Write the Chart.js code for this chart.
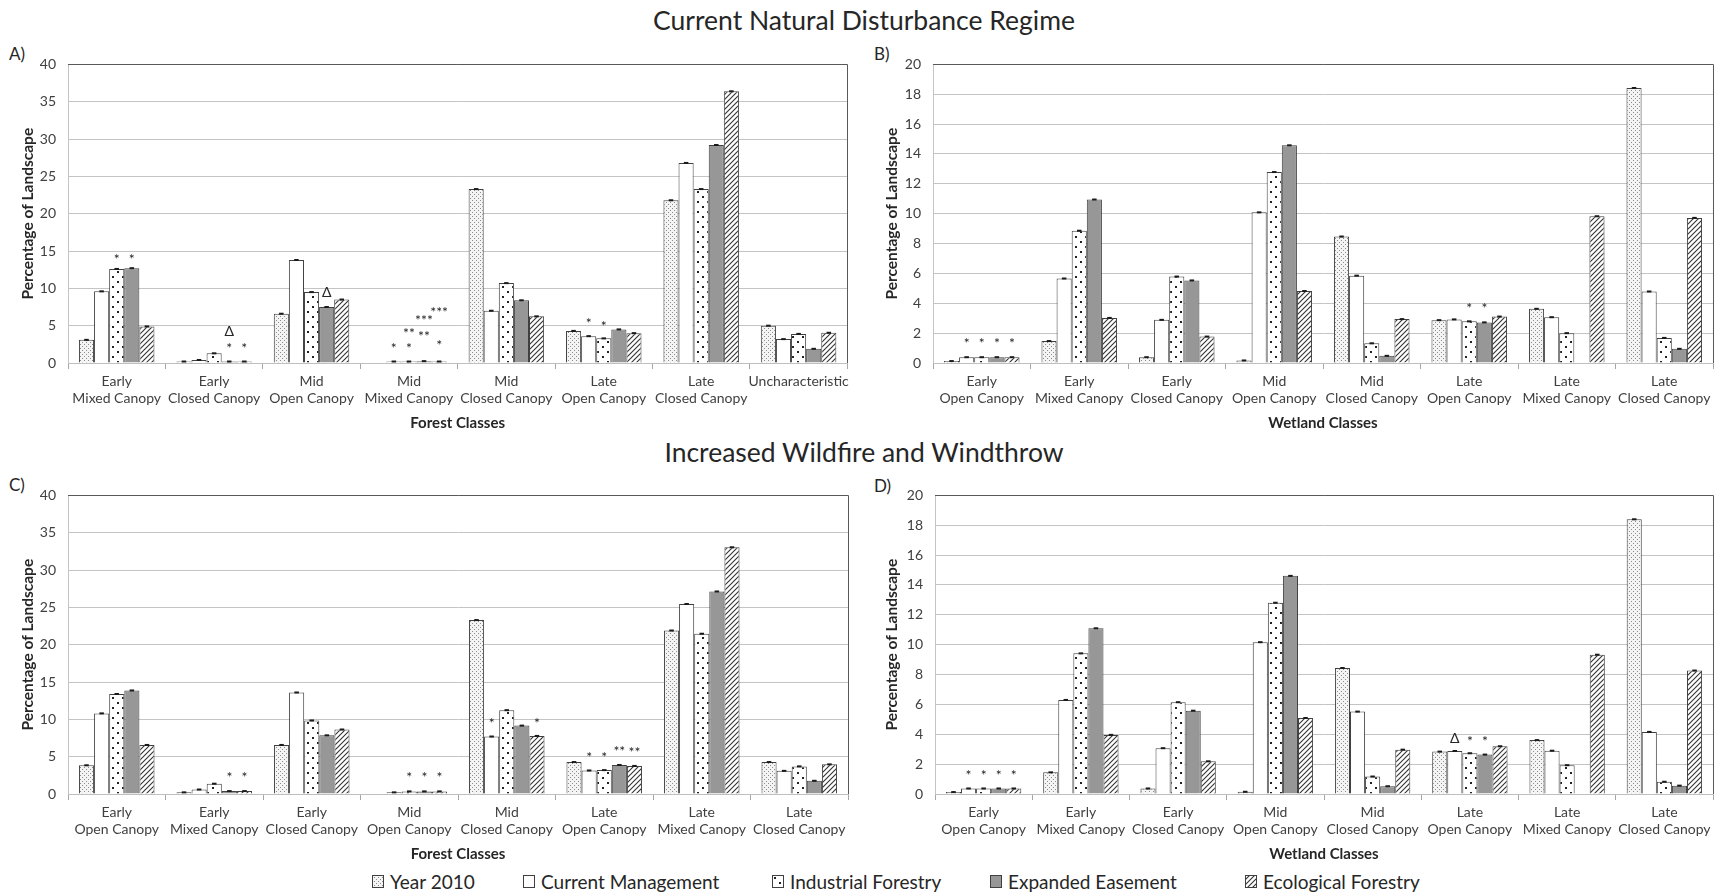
<!DOCTYPE html>
<html>
<head>
<meta charset="utf-8">
<script src="https://cdn.jsdelivr.net/npm/chart.js@4.4.0/dist/chart.umd.min.js"></script>
<style>
  body { margin: 0; width: 1715px; height: 894px; background: #fff; position: relative; overflow: hidden;
         font-family: Lato, 'Open Sans', sans-serif; color: #262626; }
  .title { position: absolute; left: 0; width: 1728px; text-align: center; font-size: 26.5px; line-height: 30px; }
  .letter { position: absolute; font-size: 17px; line-height: 20px; color: #262626; }
  .panel { position: absolute; }
  .legend-item { position: absolute; top: 870px; height: 22px; display: flex; align-items: center; font-size: 19px; white-space: nowrap; }
  .legend-item canvas { margin-right: 6px; }
</style>
</head>
<body>
<div class="title" style="top:5px">Current Natural Disturbance Regime</div>
<div class="title" style="top:437px">Increased Wildfire and Windthrow</div>

<div class="letter" style="left:9px;top:44px">A)</div>
<div class="letter" style="left:874px;top:44px">B)</div>
<div class="letter" style="left:9px;top:475px">C)</div>
<div class="letter" style="left:874px;top:476px">D)</div>

<canvas id="chartA" class="panel" width="853" height="390" style="left:0;top:44px"></canvas>
<canvas id="chartB" class="panel" width="862" height="390" style="left:853px;top:44px"></canvas>
<canvas id="chartC" class="panel" width="853" height="390" style="left:0;top:475px"></canvas>
<canvas id="chartD" class="panel" width="862" height="390" style="left:853px;top:475px"></canvas>

<div id="legend"></div>

<script>
// ---- data -------------------------------------------------------------
const seriesNames = ['Year 2010', 'Current Management', 'Industrial Forestry', 'Expanded Easement', 'Ecological Forestry'];

const forestLabelsA = [['Early', 'Mixed Canopy'], ['Early', 'Closed Canopy'], ['Mid', 'Open Canopy'], ['Mid', 'Mixed Canopy'],
  ['Mid', 'Closed Canopy'], ['Late', 'Open Canopy'], ['Late', 'Closed Canopy'], 'Uncharacteristic'];
const forestLabelsC = [['Early', 'Open Canopy'], ['Early', 'Mixed Canopy'], ['Early', 'Closed Canopy'], ['Mid', 'Open Canopy'],
  ['Mid', 'Closed Canopy'], ['Late', 'Open Canopy'], ['Late', 'Mixed Canopy'], ['Late', 'Closed Canopy']];
const wetlandLabels = [['Early', 'Open Canopy'], ['Early', 'Mixed Canopy'], ['Early', 'Closed Canopy'], ['Mid', 'Open Canopy'],
  ['Mid', 'Closed Canopy'], ['Late', 'Open Canopy'], ['Late', 'Mixed Canopy'], ['Late', 'Closed Canopy']];

// A) forest, current regime
const yearA       = [3.1, 0.2, 6.6, null, 23.3, 4.3, 21.8, 5.0];
const currentA    = [9.6, 0.4, 13.8, 0.2, 7.0, 3.6, 26.8, 3.2];
const industrialA = [12.6, 1.3, 9.5, 0.2, 10.7, 3.3, 23.3, 3.9];
const expandedA   = [12.7, 0.2, 7.5, 0.25, 8.4, 4.5, 29.2, 1.9];
const ecologicalA = [4.9, 0.2, 8.5, 0.2, 6.25, 4.0, 36.4, 4.05];

// B) wetland, current regime
const yearB       = [0.13, 1.47, 0.39, 0.17, 8.47, 2.87, 3.63, 18.42];
const currentB    = [0.39, 5.66, 2.89, 10.09, 5.85, 2.92, 3.07, 4.79];
const industrialB = [0.39, 8.86, 5.79, 12.79, 1.32, 2.79, 2.0, 1.68];
const expandedB   = [0.39, 10.95, 5.53, 14.58, 0.48, 2.72, null, 0.95];
const ecologicalB = [0.39, 3.02, 1.77, 4.82, 2.94, 3.11, 9.83, 9.72];

// C) forest, wildfire and windthrow
const yearC       = [3.85, 0.22, 6.57, null, 23.3, 4.28, 21.9, 4.28];
const currentC    = [10.8, 0.6, 13.6, 0.22, 7.7, 3.15, 25.45, 3.1];
const industrialC = [13.4, 1.38, 9.85, 0.35, 11.23, 3.2, 21.47, 3.7];
const expandedC   = [13.87, 0.39, 7.86, 0.35, 9.16, 3.89, 27.13, 1.77];
const ecologicalC = [6.57, 0.39, 8.64, 0.35, 7.78, 3.76, 33.05, 3.97];

// D) wetland, wildfire and windthrow
const yearD       = [0.13, 1.45, 0.37, 0.15, 8.44, 2.84, 3.61, 18.4];
const currentD    = [0.37, 6.3, 3.07, 10.17, 5.52, 2.88, 2.9, 4.16];
const industrialD = [0.37, 9.42, 6.15, 12.81, 1.17, 2.73, 1.93, 0.82];
const expandedD   = [0.37, 11.1, 5.58, 14.61, 0.52, 2.64, null, 0.56];
const ecologicalD = [0.37, 3.96, 2.19, 5.09, 2.97, 3.2, 9.33, 8.27];

// significance marks: [category, series, value, text]
const marksA = [[0, 2, 14.3, '*'], [0, 3, 14.3, '*'], [1, 3, 4.2, 'Δ'], [1, 3, 2.4, '*'], [1, 4, 2.4, '*'],
  [2, 3, 9.4, 'Δ'], [3, 1, 2.4, '*'], [3, 2, 2.3, '*'], [3, 2, 4.4, '**'], [3, 3, 6.1, '***'], [3, 3, 3.9, '**'],
  [3, 4, 7.2, '***'], [3, 4, 2.7, '*'], [5, 1, 5.7, '*'], [5, 2, 5.3, '*']];
const marksB = [[0, 1, 1.5, '*'], [0, 2, 1.5, '*'], [0, 3, 1.5, '*'], [0, 4, 1.5, '*'], [5, 2, 3.85, '*'], [5, 3, 3.85, '*']];
const marksC = [[1, 3, 2.55, '*'], [1, 4, 2.55, '*'], [3, 2, 2.55, '*'], [3, 3, 2.55, '*'], [3, 4, 2.55, '*'],
  [4, 1, 9.8, '*'], [4, 4, 9.8, '*'], [5, 1, 5.27, '*'], [5, 2, 5.27, '*'], [5, 3, 6.05, '**'], [5, 4, 5.9, '**']];
const marksD = [[0, 1, 1.45, '*'], [0, 2, 1.45, '*'], [0, 3, 1.45, '*'], [0, 4, 1.45, '*'],
  [5, 1, 3.7, 'Δ'], [5, 2, 3.7, '*'], [5, 3, 3.7, '*']];

// ---- fills ------------------------------------------------------------
const FONT = "Lato, 'Open Sans', sans-serif";

function makePattern(kind) {
  const c = document.createElement('canvas');
  const g = c.getContext('2d');
  if (kind === 'stipple') {
    c.width = 4; c.height = 4;
    g.fillStyle = '#f4f4f4'; g.fillRect(0, 0, 4, 4);
    g.fillStyle = '#8c8c8c'; g.fillRect(0, 0, 1, 1); g.fillRect(2, 2, 1, 1);
  } else if (kind === 'dots') {
    c.width = 10; c.height = 10;
    g.fillStyle = '#fff'; g.fillRect(0, 0, 10, 10);
    g.fillStyle = '#222'; g.fillRect(2, 2, 2, 2); g.fillRect(7, 7, 2, 2);
  } else if (kind === 'hatch') {
    c.width = 5; c.height = 5;
    g.fillStyle = '#fff'; g.fillRect(0, 0, 5, 5);
    g.strokeStyle = '#333'; g.lineWidth = 1.1;
    g.beginPath();
    g.moveTo(-1, 6); g.lineTo(6, -1);
    g.moveTo(-1, 1); g.lineTo(1, -1);
    g.moveTo(4, 6); g.lineTo(6, 4);
    g.stroke();
  }
  return g.createPattern(c, 'repeat');
}

const fills = [makePattern('stipple'), '#ffffff', makePattern('dots'), '#979797', makePattern('hatch')];

// error caps, top/right frame and significance marks
const decorPlugin = {
  id: 'decor',
  afterDatasetsDraw(chart, args, opts) {
    const ctx = chart.ctx, area = chart.chartArea;
    ctx.save();
    ctx.strokeStyle = '#1a1a1a';
    ctx.lineWidth = 2;
    chart.data.datasets.forEach((ds, i) => {
      chart.getDatasetMeta(i).data.forEach((bar, j) => {
        if (ds.data[j] == null) return;
        const w = bar.width * 0.3;
        ctx.beginPath();
        ctx.moveTo(bar.x - w / 2, bar.y);
        ctx.lineTo(bar.x + w / 2, bar.y);
        ctx.stroke();
      });
    });
    ctx.strokeStyle = '#595959';
    ctx.lineWidth = 1;
    ctx.beginPath();
    ctx.moveTo(area.left, Math.round(area.top) + 0.5);
    ctx.lineTo(Math.round(area.right) + 0.5, Math.round(area.top) + 0.5);
    ctx.lineTo(Math.round(area.right) + 0.5, area.bottom);
    ctx.stroke();

    ctx.fillStyle = '#262626';
    ctx.font = '14px ' + FONT;
    ctx.textAlign = 'center';
    ctx.textBaseline = 'middle';
    (opts.marks || []).forEach(([c, d, v, t]) => {
      const bar = chart.getDatasetMeta(d).data[c];
      const y = chart.scales.y.getPixelForValue(v) + (t.includes('*') ? 3 : 0);
      ctx.fillText(t, bar.x, y);
    });
    ctx.restore();
  }
};

function buildChart(id, labels, series, xTitle, yMax, yStep, yWidth, yTitlePad, padTop, padRight, marks) {
  new Chart(document.getElementById(id), {
    type: 'bar',
    data: {
      labels: labels,
      datasets: series.map((data, i) => ({
        label: seriesNames[i],
        data: data,
        backgroundColor: fills[i],
        borderColor: '#404040',
        borderWidth: 1,
        categoryPercentage: 0.775,
        barPercentage: 1,
      })),
    },
    options: {
      responsive: false,
      animation: false,
      layout: { padding: { top: padTop, right: padRight, left: 0, bottom: 0 } },
      plugins: { legend: { display: false }, tooltip: { enabled: false }, decor: { marks: marks } },
      scales: {
        x: {
          grid: { drawOnChartArea: false, drawTicks: true, tickLength: 6, color: '#a6a6a6', offset: true },
          border: { color: '#bfbfbf' },
          ticks: { font: { family: FONT, size: 14, lineHeight: 1.22 }, color: '#404040', padding: 4, maxRotation: 0, autoSkip: false },
          title: { display: true, text: xTitle, font: { family: FONT, size: 15, weight: 'bold' }, color: '#262626', padding: { top: 0, bottom: 2 } },
          afterFit: (s) => { s.height = 71; },
        },
        y: {
          min: 0, max: yMax,
          grid: { color: '#c4c4c4', drawTicks: false },
          border: { color: '#c4c4c4' },
          ticks: { stepSize: yStep, font: { family: FONT, size: 14 }, color: '#404040', padding: 12 },
          title: { display: true, text: 'Percentage of Landscape', font: { family: FONT, size: 15.5, weight: 'bold' }, color: '#262626', padding: { top: yTitlePad, bottom: 0 } },
          afterFit: (s) => { s.width = yWidth; },
        },
      },
    },
    plugins: [decorPlugin],
  });
}

buildChart('chartA', forestLabelsA, [yearA, currentA, industrialA, expandedA, ecologicalA], 'Forest Classes', 40, 5, 68, 19, 10, 5, marksA);
buildChart('chartB', wetlandLabels, [yearB, currentB, industrialB, expandedB, ecologicalB], 'Wetland Classes', 20, 2, 80, 30, 10, 2, marksB);
buildChart('chartC', forestLabelsC, [yearC, currentC, industrialC, expandedC, ecologicalC], 'Forest Classes', 40, 5, 68, 19, 10, 5, marksC);
buildChart('chartD', wetlandLabels, [yearD, currentD, industrialD, expandedD, ecologicalD], 'Wetland Classes', 20, 2, 82, 30, 11, 2, marksD);

// shared legend
const legendX = [372, 523, 772, 990, 1245];
const legend = document.getElementById('legend');
seriesNames.forEach((name, i) => {
  const item = document.createElement('div');
  item.className = 'legend-item';
  item.style.left = legendX[i] + 'px';
  const sw = document.createElement('canvas');
  sw.width = 12; sw.height = 13;
  const g = sw.getContext('2d');
  g.fillStyle = fills[i];
  g.fillRect(0, 0, 12, 13);
  g.strokeStyle = '#404040';
  g.strokeRect(0.5, 0.5, 11, 12);
  item.appendChild(sw);
  item.appendChild(document.createTextNode(name));
  legend.appendChild(item);
});
</script>
</body>
</html>
